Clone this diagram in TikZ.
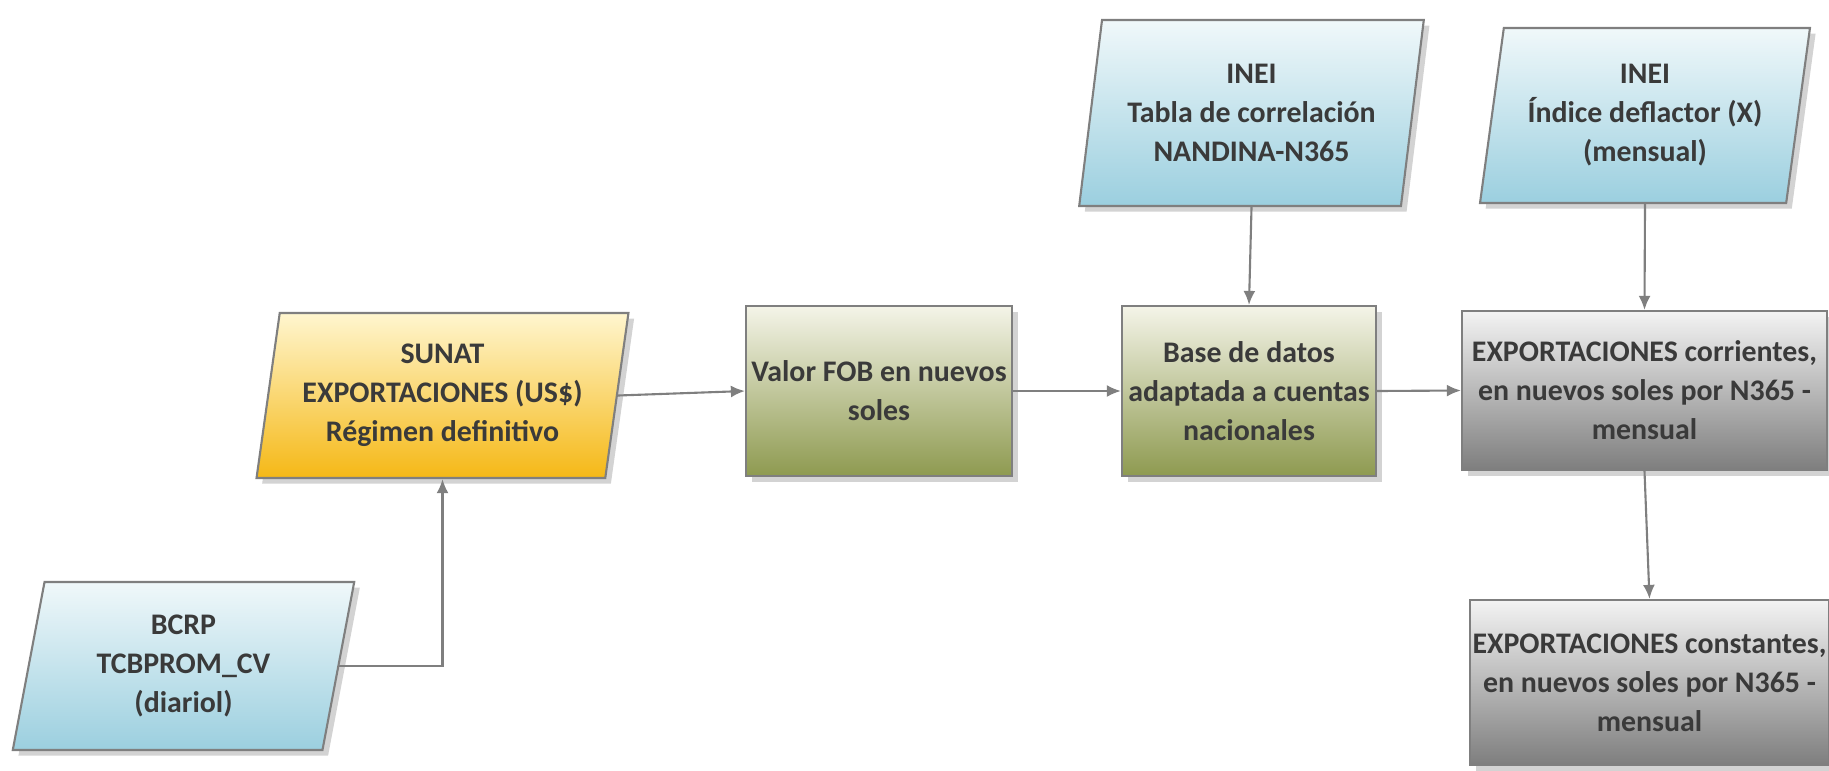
\documentclass[tikz,border=0pt]{standalone}
\usepackage{fontspec}
\setmainfont{Carlito}
\usepackage{xcolor}
\usetikzlibrary{shapes.geometric}
\usetikzlibrary{shadows}
\usetikzlibrary{arrows.meta}

\definecolor{txtgris}{HTML}{3A3A3A}
\definecolor{bordegris}{HTML}{7F7F7F}
\definecolor{azularriba}{HTML}{F0F8FA}
\definecolor{azulabajo}{HTML}{9BCFDF}
\definecolor{oroarriba}{HTML}{FFF6CF}
\definecolor{oroabajo}{HTML}{F5B816}
\definecolor{verdearriba}{HTML}{F4F4E8}
\definecolor{verdeabajo}{HTML}{8E9A50}
\definecolor{grisarriba}{HTML}{F3F3F3}
\definecolor{grisabajo}{HTML}{7E7E7E}

\tikzset{
  caja/.style={draw=bordegris, line width=0.6pt, text=txtgris, align=center,
    font=\fontsize{8.5}{11.1}\selectfont\bfseries, inner sep=0pt,
    drop shadow={shadow xshift=1.6pt, shadow yshift=-1.6pt, opacity=0.35}},
  fuente/.style={caja, trapezium, trapezium left angle=79, trapezium right angle=101,
    trapezium stretches=true},
  proceso/.style={caja, rectangle},
  azul/.style={top color=azularriba, bottom color=azulabajo},
  oro/.style={top color=oroarriba, bottom color=oroabajo},
  verde/.style={top color=verdearriba, bottom color=verdeabajo},
  gris/.style={top color=grisarriba, bottom color=grisabajo},
  flecha/.style={draw=bordegris, line width=0.6pt, -{Latex[length=4pt,width=3.4pt]}}
}

\begin{document}
\begin{tikzpicture}

\useasboundingbox (0,0) rectangle (18.29,-7.70);

% nodes

\node[fuente, azul, minimum width=3.43cm, minimum height=1.68cm] (bcrp) at (1.835,-6.66) {BCRP\\TCBPROM\_CV\\(diariol)};
\node[fuente, oro, minimum width=3.75cm, minimum height=1.65cm] (sunat) at (4.425,-3.955) {SUNAT\\EXPORTACIONES (US\$)\\Régimen definitivo};
\node[proceso, verde, minimum width=2.66cm, minimum height=1.70cm] (valor) at (8.79,-3.91) {Valor FOB en nuevos\\soles};
\node[proceso, verde, minimum width=2.54cm, minimum height=1.70cm] (datos) at (12.49,-3.91) {Base de datos\\adaptada a cuentas\\nacionales};
\node[fuente, azul, minimum width=3.47cm, minimum height=1.86cm] (tabla) at (12.515,-1.13) {INEI\\Tabla de correlación\\NANDINA-N365};
\node[fuente, azul, minimum width=3.30cm, minimum height=1.75cm] (indice) at (16.45,-1.155) {INEI\\Índice deflactor (X)\\(mensual)};
\node[proceso, gris, minimum width=3.65cm, minimum height=1.59cm] (corr) at (16.445,-3.905) {EXPORTACIONES corrientes,\\en nuevos soles por N365 -\\mensual};
\node[proceso, gris, minimum width=3.59cm, minimum height=1.65cm] (const) at (16.495,-6.825) {EXPORTACIONES constantes,\\en nuevos soles por N365 -\\mensual};

%% arrows

\draw[flecha] (bcrp.east) -| (sunat.south);
\draw[flecha] (sunat.east) -- (valor.west);
\draw[flecha] (valor.east) -- (datos.west);
\draw[flecha] (datos.east) -- (corr.west);
\draw[flecha] (tabla.south) -- (datos.north);
\draw[flecha] (indice.south) -- (corr.north);
\draw[flecha] (corr.south) -- (const.north);

\end{tikzpicture}
\end{document}
